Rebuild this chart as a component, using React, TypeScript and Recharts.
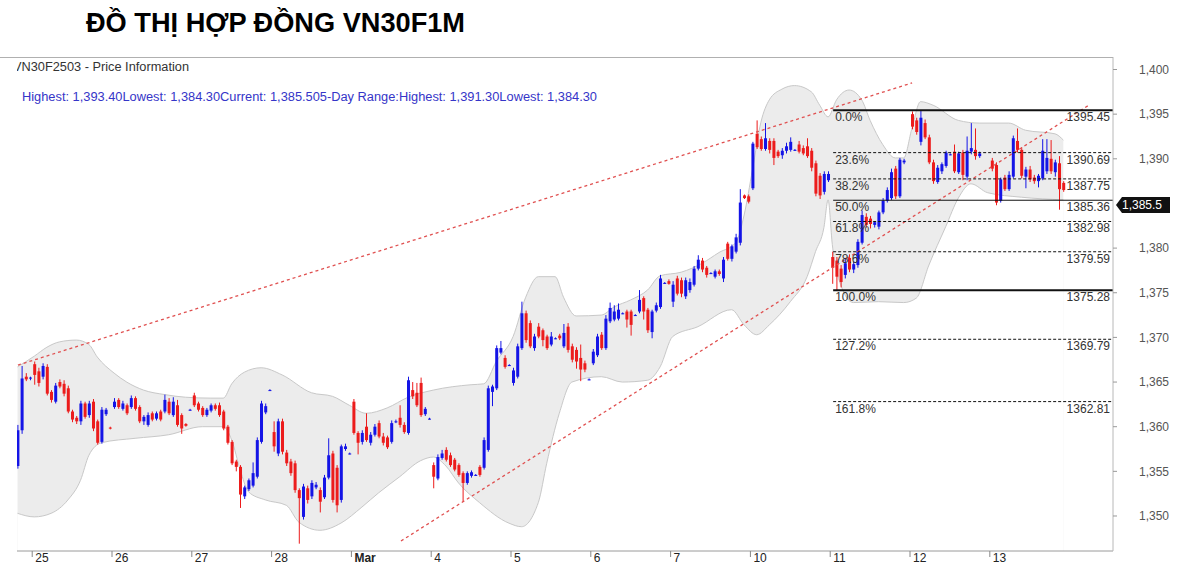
import React from "react";
import { ComposedChart, XAxis, YAxis, Bar, Area, ReferenceLine } from "recharts";

type OHLC = [number, number, number, number] | null;

// 15-minute bars, [open, high, low, close]; null = no bar in that slot
const feb24: OHLC[] = [
  [1355.6, 1360.2, 1355.3, 1359.6], [1359.6, 1366.8, 1359.2, 1365.4], [1365.6, 1366.0, 1365.1, 1365.3],
  [1365.4, 1365.6, 1365.2, 1365.5],
];
const feb25: OHLC[] = [
  [1367.0, 1367.3, 1364.7, 1365.8], [1366.2, 1366.6, 1364.5, 1364.9], [1365.6, 1367.1, 1365.3, 1366.8],
  [1366.7, 1367.0, 1363.5, 1363.7], [1363.9, 1364.1, 1362.7, 1363.0], [1362.8, 1364.9, 1362.6, 1364.6],
  [1365.0, 1365.3, 1364.3, 1364.5], [1364.8, 1365.2, 1363.4, 1363.7], [1364.3, 1364.6, 1361.5, 1361.7],
  [1361.7, 1361.9, 1360.5, 1360.8], [1361.0, 1361.2, 1360.3, 1360.6], [1360.6, 1362.9, 1360.2, 1362.6],
  [1362.6, 1362.8, 1360.9, 1361.1], [1361.3, 1362.9, 1361.0, 1362.6], [1362.8, 1363.1, 1359.5, 1359.8],
  [1360.6, 1360.8, 1358.0, 1358.2], [1358.3, 1362.2, 1358.1, 1361.9], [1361.4, 1362.1, 1361.2, 1361.9],
  [1359.9, 1360.0, 1359.7, 1359.8],
];
const feb26: OHLC[] = [
  [1362.2, 1363.2, 1362.0, 1362.8], [1363.0, 1363.2, 1362.0, 1362.2], [1362.0, 1362.9, 1361.8, 1362.6],
  [1362.4, 1362.6, 1361.3, 1361.5], [1362.2, 1363.5, 1362.0, 1363.2], [1363.2, 1363.4, 1361.8, 1362.0],
  [1362.2, 1362.4, 1360.4, 1360.6], [1360.6, 1361.3, 1360.2, 1361.1], [1360.2, 1361.6, 1360.0, 1361.3],
  [1361.5, 1361.7, 1360.6, 1360.8], [1360.9, 1361.7, 1360.7, 1361.5], [1361.7, 1361.9, 1360.6, 1360.8],
  [1361.7, 1363.6, 1361.5, 1363.0], [1362.8, 1363.2, 1361.3, 1361.5], [1361.3, 1363.3, 1361.1, 1362.8],
  [1362.4, 1363.0, 1360.0, 1360.2], [1361.3, 1361.5, 1359.2, 1359.8], [1360.3, 1360.4, 1360.0, 1360.1],
  [1361.9, 1362.0, 1361.8, 1361.9],
];
const feb27: OHLC[] = [
  [1363.5, 1363.8, 1362.2, 1362.4], [1362.6, 1362.8, 1361.7, 1361.9], [1362.1, 1362.3, 1361.1, 1361.3],
  [1361.3, 1362.1, 1361.1, 1361.9], [1361.8, 1362.6, 1361.6, 1362.4], [1362.4, 1362.6, 1361.8, 1362.0],
  [1362.4, 1362.7, 1361.1, 1361.3], [1361.7, 1361.9, 1359.6, 1359.8], [1360.0, 1360.2, 1358.0, 1358.2],
  [1358.3, 1358.5, 1355.7, 1355.9], [1356.1, 1356.3, 1355.0, 1355.5], [1355.5, 1355.7, 1350.9, 1352.4],
  [1352.2, 1353.4, 1351.9, 1353.2], [1353.0, 1354.2, 1352.8, 1354.0], [1353.4, 1356.0, 1353.2, 1354.8],
  [1354.4, 1358.8, 1354.2, 1358.5], [1358.3, 1362.9, 1358.1, 1362.6], [1361.6, 1362.6, 1361.4, 1362.3],
  [1364.1, 1364.2, 1364.0, 1364.1],
];
const feb28: OHLC[] = [
  [1359.4, 1360.6, 1357.2, 1357.8], [1357.0, 1360.9, 1356.7, 1360.6], [1360.6, 1360.9, 1356.9, 1357.2],
  [1357.1, 1357.4, 1355.6, 1355.9], [1356.1, 1356.4, 1354.5, 1354.8], [1355.9, 1356.2, 1352.6, 1352.9],
  [1352.9, 1353.1, 1346.9, 1352.0], [1349.9, 1353.6, 1349.6, 1353.3], [1353.1, 1353.4, 1351.4, 1351.8],
  [1352.2, 1354.0, 1351.9, 1353.7], [1353.2, 1353.8, 1353.0, 1353.5], [1352.9, 1353.2, 1350.4, 1351.6],
  [1352.1, 1354.6, 1351.9, 1354.3], [1354.3, 1358.7, 1354.1, 1356.8], [1357.0, 1357.3, 1351.5, 1351.8],
  [1355.4, 1355.7, 1350.4, 1351.2], [1351.8, 1358.0, 1351.5, 1357.8], [1357.5, 1358.1, 1357.3, 1357.8],
  [1357.0, 1357.1, 1356.9, 1357.0],
];
const mar03: OHLC[] = [
  [1362.8, 1363.1, 1359.1, 1359.3], [1359.3, 1359.5, 1356.9, 1358.2], [1358.3, 1359.6, 1358.0, 1359.3],
  [1360.0, 1361.5, 1358.3, 1358.5], [1358.2, 1359.4, 1357.9, 1359.1], [1359.1, 1360.3, 1358.9, 1360.0],
  [1360.4, 1360.7, 1358.7, 1358.9], [1358.9, 1359.3, 1357.9, 1358.2], [1358.8, 1359.0, 1357.5, 1357.7],
  [1358.3, 1360.7, 1358.1, 1360.4], [1360.5, 1360.8, 1360.4, 1360.6], [1361.0, 1362.4, 1359.9, 1360.2],
  [1360.2, 1360.5, 1359.2, 1359.4], [1359.3, 1365.6, 1359.1, 1365.2], [1364.1, 1365.0, 1363.1, 1363.4],
  [1363.8, 1364.9, 1362.2, 1362.4], [1364.9, 1365.5, 1361.1, 1361.3], [1361.4, 1362.2, 1361.2, 1362.0],
  [1360.9, 1361.0, 1360.8, 1360.9],
];
const mar04: OHLC[] = [
  [1355.7, 1356.0, 1353.1, 1354.4], [1354.2, 1356.9, 1354.0, 1356.6], [1356.5, 1357.4, 1356.3, 1357.0],
  [1357.4, 1357.7, 1356.1, 1356.3], [1356.8, 1357.1, 1355.5, 1355.7], [1356.3, 1356.5, 1355.0, 1355.2],
  [1355.7, 1355.9, 1354.4, 1354.6], [1354.8, 1355.0, 1351.6, 1353.7], [1353.7, 1355.0, 1353.5, 1354.8],
  [1354.5, 1355.1, 1354.3, 1354.9], [1354.6, 1354.7, 1354.5, 1354.6], [1355.5, 1355.7, 1354.4, 1354.6],
  [1355.4, 1358.8, 1355.2, 1358.5], [1357.4, 1364.6, 1357.2, 1364.3], [1363.9, 1364.7, 1362.3, 1364.5],
  [1364.3, 1369.1, 1364.1, 1368.8], [1368.3, 1369.6, 1368.1, 1368.8], [1367.7, 1368.0, 1366.5, 1366.7],
  [1366.9, 1367.0, 1366.8, 1366.9],
];
const mar05: OHLC[] = [
  [1364.9, 1366.6, 1364.6, 1366.3], [1365.6, 1369.3, 1365.4, 1369.0], [1368.8, 1374.0, 1368.6, 1372.7],
  [1372.7, 1373.0, 1369.4, 1369.7], [1371.6, 1371.9, 1368.8, 1369.0], [1368.8, 1370.4, 1368.5, 1370.1],
  [1371.2, 1371.6, 1369.9, 1370.1], [1370.8, 1371.0, 1369.0, 1369.7], [1370.1, 1370.3, 1368.6, 1368.8],
  [1369.2, 1370.6, 1369.0, 1370.1], [1369.9, 1370.0, 1369.8, 1369.9], [1370.2, 1370.4, 1369.7, 1369.9],
  [1369.0, 1371.5, 1368.8, 1370.5], [1371.2, 1371.6, 1368.3, 1368.6], [1369.0, 1369.3, 1367.2, 1367.5],
  [1368.6, 1368.9, 1366.5, 1367.3], [1367.7, 1369.2, 1365.1, 1366.4], [1367.1, 1367.4, 1366.1, 1366.4],
  [1365.3, 1365.4, 1365.2, 1365.3],
];
const mar06: OHLC[] = [
  [1367.1, 1368.7, 1366.9, 1368.4], [1368.0, 1370.4, 1367.8, 1370.1], [1370.3, 1370.6, 1368.6, 1368.8],
  [1368.8, 1372.5, 1368.6, 1372.1], [1371.8, 1373.9, 1371.6, 1373.3], [1372.0, 1373.6, 1371.8, 1372.9],
  [1372.1, 1373.8, 1371.9, 1373.1], [1372.7, 1372.8, 1372.6, 1372.7], [1372.9, 1373.1, 1371.1, 1372.0],
  [1372.9, 1373.1, 1370.2, 1371.4], [1372.5, 1372.6, 1372.4, 1372.5], [1372.9, 1375.3, 1372.7, 1374.2],
  [1374.4, 1374.6, 1372.0, 1372.9], [1373.1, 1373.3, 1370.5, 1370.8], [1370.6, 1373.1, 1369.9, 1372.9],
  [1373.0, 1373.9, 1372.8, 1373.6], [1373.4, 1377.0, 1373.2, 1376.6], [1376.1, 1376.2, 1376.0, 1376.1],
  [1376.3, 1376.5, 1375.9, 1376.0],
];
const mar07: OHLC[] = [
  [1374.0, 1376.3, 1373.4, 1375.9], [1376.6, 1376.9, 1374.7, 1374.9], [1376.4, 1376.7, 1374.5, 1374.9],
  [1374.6, 1376.7, 1374.3, 1376.4], [1375.3, 1376.6, 1375.0, 1376.2], [1375.9, 1378.0, 1375.7, 1377.7],
  [1377.7, 1379.2, 1377.5, 1378.7], [1378.6, 1378.9, 1377.3, 1377.6], [1377.8, 1378.0, 1376.7, 1377.0],
  [1377.2, 1377.3, 1377.1, 1377.2], [1376.8, 1377.6, 1376.6, 1377.4], [1377.4, 1377.6, 1376.9, 1377.1],
  [1376.6, 1379.0, 1376.2, 1378.7], [1380.5, 1380.7, 1378.6, 1378.8], [1378.8, 1380.4, 1378.5, 1380.2],
  [1379.6, 1381.6, 1379.4, 1381.2], [1380.6, 1386.6, 1380.3, 1385.1], [1385.9, 1386.0, 1385.5, 1385.6],
  [1385.8, 1386.0, 1385.0, 1385.2],
];
const mar10: OHLC[] = [
  [1386.7, 1391.9, 1386.5, 1391.7], [1392.8, 1394.3, 1391.1, 1391.3], [1392.2, 1392.5, 1390.9, 1391.1],
  [1391.1, 1394.0, 1390.9, 1392.3], [1392.0, 1392.3, 1390.6, 1391.0], [1392.0, 1392.3, 1389.3, 1390.1],
  [1390.8, 1391.0, 1390.1, 1390.3], [1390.4, 1391.2, 1390.0, 1390.9], [1390.9, 1391.8, 1390.6, 1391.4],
  [1391.0, 1392.4, 1390.8, 1391.9], [1391.0, 1391.1, 1390.9, 1391.0], [1391.6, 1392.0, 1390.6, 1390.8],
  [1391.2, 1391.5, 1390.4, 1390.6], [1391.4, 1392.3, 1390.1, 1390.3], [1390.9, 1391.2, 1388.6, 1389.0],
  [1389.5, 1389.8, 1385.8, 1386.1], [1388.1, 1388.4, 1385.5, 1385.9], [1386.3, 1388.6, 1386.0, 1388.3],
  [1387.6, 1388.6, 1387.4, 1388.3],
];
const mar11: OHLC[] = [
  [1379.0, 1379.6, 1376.0, 1377.8], [1378.6, 1379.0, 1375.3, 1376.8], [1377.7, 1378.1, 1375.6, 1376.2],
  [1377.0, 1378.9, 1376.6, 1378.3], [1378.9, 1379.3, 1377.3, 1377.6], [1377.6, 1378.5, 1377.2, 1378.2],
  [1378.1, 1381.0, 1377.8, 1380.7], [1380.6, 1384.2, 1380.4, 1383.7], [1383.5, 1383.9, 1382.3, 1382.6],
  [1383.3, 1383.6, 1382.2, 1382.7], [1382.6, 1383.0, 1382.3, 1382.9], [1382.4, 1384.2, 1382.1, 1384.0],
  [1384.0, 1385.6, 1383.8, 1385.3], [1385.3, 1386.8, 1385.1, 1386.5], [1385.6, 1388.9, 1385.4, 1388.5],
  [1388.9, 1389.2, 1385.5, 1385.8], [1385.8, 1390.1, 1385.6, 1389.9], [1389.6, 1390.0, 1389.4, 1389.8],
  null,
];
const mar12: OHLC[] = [
  [1395.0, 1395.3, 1393.3, 1393.6], [1394.3, 1394.6, 1392.7, 1393.0], [1391.9, 1395.45, 1391.5, 1394.6],
  [1394.0, 1394.4, 1392.2, 1392.4], [1392.4, 1392.7, 1389.4, 1389.6], [1389.6, 1389.9, 1387.2, 1387.5],
  [1387.4, 1389.3, 1387.2, 1389.0], [1388.6, 1389.6, 1388.3, 1389.4], [1389.2, 1390.9, 1389.0, 1390.7],
  [1390.5, 1390.6, 1390.4, 1390.5], [1390.8, 1391.6, 1388.4, 1388.6], [1388.5, 1390.8, 1388.3, 1390.6],
  [1390.7, 1391.0, 1387.6, 1388.2], [1388.0, 1392.5, 1387.6, 1390.9], [1390.8, 1394.0, 1390.5, 1391.2],
  [1391.0, 1393.4, 1389.9, 1390.3], [1390.3, 1390.8, 1390.1, 1390.6], null,
  null,
];
const mar13: OHLC[] = [
  [1389.8, 1390.1, 1388.6, 1388.9], [1389.3, 1389.6, 1384.8, 1385.1], [1385.3, 1387.9, 1385.1, 1387.7],
  [1387.9, 1388.2, 1386.4, 1386.6], [1386.6, 1388.6, 1386.4, 1388.2], [1388.0, 1392.6, 1387.8, 1392.3],
  [1392.0, 1393.4, 1390.7, 1391.0], [1391.0, 1391.3, 1387.8, 1388.1], [1388.0, 1389.1, 1386.7, 1388.8],
  [1388.8, 1389.2, 1387.4, 1387.7], [1387.9, 1388.2, 1387.2, 1387.5], [1387.5, 1388.3, 1386.8, 1388.1],
  [1387.8, 1392.2, 1387.6, 1390.9], [1388.6, 1392.2, 1388.3, 1390.1], [1390.0, 1392.1, 1388.3, 1388.6],
  [1388.5, 1389.9, 1388.0, 1389.6], [1389.5, 1390.3, 1384.3, 1386.6], [1387.3, 1387.5, 1386.3, 1386.5],
];

const sessions: { label: string; bars: OHLC[] }[] = [
  { label: "", bars: feb24 }, { label: "25", bars: feb25 }, { label: "26", bars: feb26 },
  { label: "27", bars: feb27 }, { label: "28", bars: feb28 }, { label: "Mar", bars: mar03 },
  { label: "4", bars: mar04 }, { label: "5", bars: mar05 }, { label: "6", bars: mar06 },
  { label: "7", bars: mar07 }, { label: "10", bars: mar10 }, { label: "11", bars: mar11 },
  { label: "12", bars: mar12 }, { label: "13", bars: mar13 },
];

// Bollinger bands: [bar slot, price]
const upperBand: [number, number][] = [
  [0, 1366.7], [4, 1367.9], [7, 1368.9], [10, 1369.5], [14, 1369.7], [17, 1369.2], [19, 1367.8],
  [23, 1366.0], [26, 1365.0], [30, 1364.1], [35, 1363.6], [40, 1363.3], [46, 1363.2], [49, 1363.2],
  [51, 1364.8], [54, 1366.1], [58, 1366.6], [63, 1365.8], [70, 1363.8], [75, 1363.4], [79, 1362.4],
  [83, 1361.5], [88, 1362.1], [93, 1363.3], [99, 1364.1], [108, 1364.7], [111, 1364.8], [114, 1367.3],
  [118, 1370.1], [121, 1374.5], [124, 1376.8], [128, 1376.8], [130, 1374.5], [133, 1372.4],
  [139, 1372.5], [142, 1373.4], [146, 1374.2], [150, 1375.3], [153, 1376.9], [158, 1377.3],
  [163, 1378.3], [167, 1379.5], [171, 1380.6], [173, 1383.7], [175, 1388.8], [177, 1394.1],
  [179, 1396.6], [182, 1397.8], [185, 1398.2], [189, 1397.5], [191, 1396.0], [193, 1394.7],
  [195, 1396.6], [198, 1397.7], [201, 1396.6], [203, 1394.3], [206, 1391.6], [209, 1390.1],
  [211, 1390.1], [213, 1393.5], [215, 1396.4], [218, 1396.0], [224, 1394.3], [229, 1394.0],
  [236, 1394.0], [240, 1393.2], [247, 1392.8], [249, 1392.1],
];
const lowerBand: [number, number][] = [
  [0, 1350.3], [4, 1349.9], [8, 1350.3], [12, 1351.8], [15, 1354.0], [17, 1356.8], [20, 1358.2],
  [28, 1358.7], [36, 1359.1], [44, 1360.0], [49, 1360.0], [51, 1358.5], [53, 1355.2], [55, 1352.7],
  [59, 1351.8], [64, 1351.2], [67, 1349.3], [72, 1348.4], [77, 1349.2], [82, 1351.0], [86, 1352.6],
  [91, 1354.4], [96, 1356.2], [99, 1356.6], [102, 1355.6], [105, 1353.7], [110, 1351.5],
  [117, 1349.2], [120, 1348.8], [124, 1351.5], [126, 1355.9], [129, 1361.5], [132, 1365.0],
  [139, 1365.6], [144, 1365.0], [150, 1365.2], [153, 1366.7], [156, 1370.1], [162, 1371.2],
  [170, 1373.1], [173, 1371.4], [176, 1370.3], [179, 1371.4], [184, 1374.0], [188, 1376.8],
  [190, 1379.6], [192, 1382.3], [193, 1385.4], [194, 1380.4], [196, 1375.9], [199, 1373.9],
  [205, 1374.0], [211, 1373.9], [214, 1374.4], [217, 1378.1], [221, 1382.4], [224, 1385.6],
  [227, 1387.2], [231, 1386.2], [239, 1385.7], [249, 1385.4],
];

// trend channel lines: [slot, price] end points
const trendUpper: [number, number][] = [[0.1, 1366.9], [213.0, 1398.5]];
const trendLower: [number, number][] = [[91.3, 1347.2], [255.4, 1396.1]];

const fibPct = ["0.0%", "23.6%", "38.2%", "50.0%", "61.8%", "78.6%", "100.0%", "127.2%", "161.8%"];
const fibVal = [1395.45, 1390.69, 1387.75, 1385.36, 1382.98, 1379.59, 1375.28, 1369.79, 1362.81];
const fibStart = 194.2;

const priceTicks = [1350, 1355, 1360, 1365, 1370, 1375, 1380, 1390, 1395, 1400];
const lastPrice = 1385.5;
const infoLine =
  "Highest: 1,393.40Lowest: 1,384.30Current: 1,385.505-Day Range:Highest: 1,391.30Lowest: 1,384.30";

const X_MIN = -0.12;
const X_MAX = 260.83;
const FONT = "'Liberation Sans', Arial, Helvetica, sans-serif";

const candles: { i: number; o: number; h: number; l: number; c: number }[] = [];
const dayTicks: { i: number; label: string }[] = [];
let slot = 0;
sessions.forEach((s) => {
  if (s.label) dayTicks.push({ i: slot - 0.5, label: s.label });
  s.bars.forEach((b) => {
    if (b) candles.push({ i: slot, o: b[0], h: b[1], l: b[2], c: b[3] });
    slot++;
  });
});
const tickLabel = new Map(dayTicks.map((t) => [t.i, t.label]));
const upperData = upperBand.map(([i, p]) => ({ i, p }));
const lowerData = lowerBand.map(([i, p]) => ({ i, p }));

const Candle = (props: any) => {
  const { x, y, width, height, payload } = props;
  if (!payload || height == null || isNaN(y)) return null;
  const { o, h, l, c } = payload;
  const up = c >= o;
  const color = up ? "#1414e6" : "#ec1c1c";
  const k = h > l ? height / (h - l) : 0;
  const yO = y + (h - o) * k;
  const yC = y + (h - c) * k;
  const top = Math.min(yO, yC);
  const bh = Math.max(1, Math.abs(yO - yC));
  const cx = x + width / 2;
  return (
    <g>
      <line x1={cx} x2={cx} y1={y} y2={y + Math.max(height, 1)} stroke={color} strokeWidth={1} />
      <rect x={x} y={top} width={width} height={bh} fill={color} />
    </g>
  );
};

const DayTick = (props: any) => {
  const { x, y, payload } = props;
  const label = tickLabel.get(payload.value) || "";
  return (
    <g>
      <line x1={x} x2={x} y1={y} y2={y + 6} stroke="#888" />
      <text x={x + 3} y={y + 10.5} fontSize={12} fontFamily={FONT} fill="#222" fontWeight={label === "Mar" ? "bold" : "normal"}>
        {label}
      </text>
    </g>
  );
};

const FibLabel = (props: any) => {
  const { viewBox, pct, val } = props;
  if (!viewBox) return null;
  const { x, y, width } = viewBox;
  return (
    <g fontSize={12} fontFamily={FONT} fill="#333">
      <text x={x + 2} y={y + 11}>{pct}</text>
      <text x={x + width - 3} y={y + 11} textAnchor="end">{val}</text>
    </g>
  );
};

const PriceTag = (props: any) => {
  const { viewBox } = props;
  if (!viewBox) return null;
  const r = viewBox.x + viewBox.width;
  const cy = viewBox.y + 6;
  return (
    <g>
      <polygon
        points={`${r + 3},${cy} ${r + 9},${cy - 8} ${r + 57},${cy - 8} ${r + 57},${cy + 8} ${r + 9},${cy + 8}`}
        fill="#111"
      />
      <text x={r + 9} y={cy + 4} fill="#fff" fontSize={12} fontFamily={FONT}>
        {lastPrice.toLocaleString("en-US", { minimumFractionDigits: 1 })}
      </text>
    </g>
  );
};

export default function App() {
  return (
    <div style={{ position: "relative", width: 1197, height: 565, background: "#fff", overflow: "hidden", fontFamily: FONT }}>
      <style>{"body{margin:0;background:#fff}"}</style>
      <ComposedChart
        width={1197}
        height={565}
        data={candles}
        margin={{ top: 57, right: 0, bottom: 0, left: 17 }}
      >
        <XAxis
          type="number"
          dataKey="i"
          domain={[X_MIN, X_MAX]}
          allowDataOverflow
          ticks={dayTicks.map((t) => t.i)}
          interval={0}
          tick={<DayTick />}
          tickLine={false}
          tickSize={0}
          tickMargin={0}
          height={14}
          axisLine={{ stroke: "#9a9a9a" }}
        />
        <YAxis
          orientation="right"
          type="number"
          domain={[1346.08, 1401.4]}
          allowDataOverflow
          ticks={priceTicks}
          interval={0}
          tickFormatter={(v: number) => v.toLocaleString("en-US")}
          tick={{ fontSize: 12, fill: "#555", fontFamily: FONT }}
          tickSize={4}
          tickMargin={22}
          tickLine={{ stroke: "#999" }}
          axisLine={{ stroke: "#b8b8b8" }}
          width={84}
        />
        <Area
          data={upperData}
          dataKey="p"
          type="monotone"
          stroke="#c8c8c8"
          strokeWidth={1}
          fill="#ececec"
          fillOpacity={1}
          baseValue="dataMin"
          dot={false}
          activeDot={false}
          isAnimationActive={false}
        />
        <Area
          data={lowerData}
          dataKey="p"
          type="monotone"
          stroke="#c8c8c8"
          strokeWidth={1}
          fill="#ffffff"
          fillOpacity={1}
          baseValue="dataMin"
          dot={false}
          activeDot={false}
          isAnimationActive={false}
        />
        <ReferenceLine
          segment={trendUpper.map(([x, y]) => ({ x, y }))}
          stroke="#e05050"
          strokeWidth={1.3}
          strokeDasharray="3 3"
          ifOverflow="visible"
        />
        <ReferenceLine
          segment={trendLower.map(([x, y]) => ({ x, y }))}
          stroke="#e05050"
          strokeWidth={1.3}
          strokeDasharray="3 3"
          ifOverflow="visible"
        />
        {fibVal.map((v, k) => (
          <ReferenceLine
            key={fibPct[k]}
            segment={[{ x: fibStart, y: v }, { x: X_MAX, y: v }]}
            stroke="#111"
            strokeWidth={k === 0 || k === 6 ? 2 : 1}
            strokeDasharray={k === 0 || k === 3 || k === 6 ? undefined : "3 2"}
            ifOverflow="visible"
            label={<FibLabel pct={fibPct[k]} val={v.toFixed(2)} />}
          />
        ))}
        <Bar
          dataKey={(d: any) => [d.l, d.h]}
          barSize={3}
          shape={<Candle />}
          isAnimationActive={false}
        />
        <ReferenceLine y={lastPrice} stroke="none" ifOverflow="visible" label={<PriceTag />} />
      </ComposedChart>
      <svg width={1197} height={565} style={{ position: "absolute", left: 0, top: 0, pointerEvents: "none" }}>
        <rect x={0} y={44} width={17} height={521} fill="#fff" />
        <line x1={0} x2={1113} y1={57.5} y2={57.5} stroke="#b0b0b0" />
        <text x={86} y={32} fontSize={27} fontWeight="bold" fontFamily={FONT} fill="#000" textLength={379} lengthAdjust="spacingAndGlyphs">
          ĐỒ THỊ HỢP ĐỒNG VN30F1M
        </text>
        <text x={13} y={71} fontSize={12} fontFamily={FONT} fill="#333" textLength={176} lengthAdjust="spacingAndGlyphs">
          VN30F2503 - Price Information
        </text>
        <rect x={0} y={58} width={17} height={20} fill="#fff" />
        <text x={22} y={101} fontSize={12} fontFamily={FONT} fill="#3535c8" textLength={575} lengthAdjust="spacingAndGlyphs">
          {infoLine}
        </text>
      </svg>
    </div>
  );
}
